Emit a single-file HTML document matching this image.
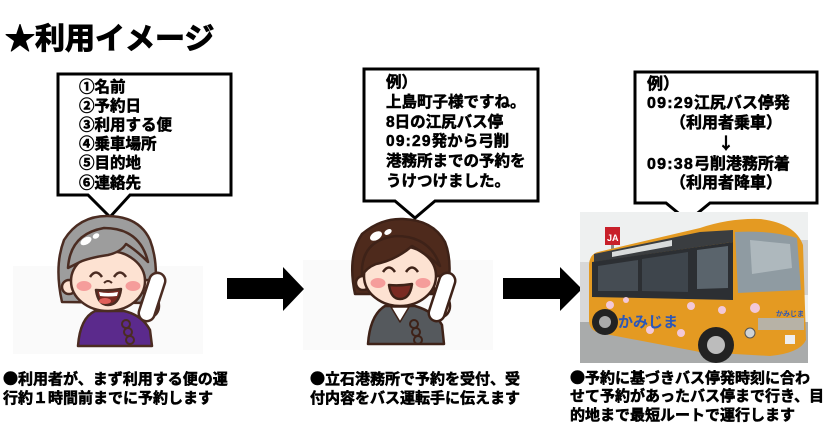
<!DOCTYPE html>
<html><head><meta charset="utf-8">
<style>
html,body{margin:0;padding:0;background:#fff;}
body{width:829px;height:435px;position:relative;overflow:hidden;font-family:"Liberation Sans","Noto Sans CJK JP",sans-serif;font-weight:bold;color:#000;}
.t{position:absolute;white-space:nowrap;font-weight:bold;-webkit-text-stroke:0.55px #000;}
.cj{font-family:"Noto Sans CJK JP",sans-serif;}
.d{letter-spacing:1.2px;}
svg{position:absolute;left:0;top:0;}
</style></head><body>
<svg width="829" height="435" viewBox="0 0 829 435" xmlns="http://www.w3.org/2000/svg">
  <!-- faint ghost backgrounds -->
  <rect x="13" y="266" width="190" height="88" fill="#fafafa"/>
  <rect x="303" y="260" width="190" height="90" fill="#fafafa"/>

  <!-- Bubbles -->
  <path d="M58,74 H231 V195 H130 L110,217 L88,195 H58 Z" fill="#fff" stroke="#000" stroke-width="3" stroke-linejoin="miter"/>
  <path d="M364,69 H538 V201 H435 L415,218 L395,201 H364 Z" fill="#fff" stroke="#000" stroke-width="3"/>
  <path d="M635,72 H817 V203 H710 L688,221 L666,203 H635 Z" fill="#fff" stroke="#000" stroke-width="3"/>

  <!-- Arrows -->
  <polygon points="227,278 283,278 283,267 304,289 283,311 283,299 227,299" fill="#000"/>
  <polygon points="503,278 560,278 560,267 582,289 560,311 560,299 503,299" fill="#000"/>

  <!-- Grandma -->
  <g stroke="#4b2c22" stroke-width="2.5" stroke-linejoin="round">
    <path d="M62,302 Q54,266 64,240 Q79,216 107,216 Q139,216 150,240 Q160,266 153,303 Z" fill="#9d9d9d"/>
    <circle cx="69" cy="287" r="7" fill="#fde2d2"/>
    <circle cx="147" cy="287" r="7" fill="#fde2d2"/>
    <path d="M78,346 Q80,318 95,311 L124,311 Q142,315 150,330 L152,346 Z" fill="#5b2a8c"/>
    <ellipse cx="108" cy="281" rx="37" ry="30" fill="#fde2d2"/>
    <path d="M68,268 Q70,234 104,228 Q140,228 148,262 Q136,250 126,244 Q121,252 108,255 Q88,258 80,262 Q72,266 68,268 Z" fill="#9d9d9d"/>
    <path d="M90,277 Q96,268 102,277" fill="none"/>
    <path d="M114,277 Q120,268 126,277" fill="none"/>
    <path d="M96,290 Q108,291 121,289 Q119,305 108,305 Q98,305 96,290 Z" fill="#7a2a22"/>
    <path d="M104,283 Q108,279 112,283" fill="none" stroke-width="2"/>
    <ellipse cx="150" cy="306" rx="9" ry="11" fill="#fde2d2"/>
    <rect x="144" y="272" width="16" height="50" rx="8" fill="#fff" transform="rotate(18 152 297)"/>
    <g fill="none" stroke-width="2"><circle cx="126" cy="324" r="4"/><circle cx="128" cy="332" r="4"/><circle cx="130" cy="340" r="4"/></g>
  </g>
  <path d="M99,292 Q108,294 118,292 L117,296 Q108,297 100,296 Z" fill="#fff"/>
  <ellipse cx="105" cy="301" rx="6" ry="3" fill="#e0605a"/>
  <ellipse cx="84" cy="286" rx="7.5" ry="5" fill="#f59d9b"/>
  <ellipse cx="133" cy="286" rx="7.5" ry="5" fill="#f59d9b"/>
  <ellipse cx="86" cy="241" rx="6" ry="3.5" fill="#fff" transform="rotate(-30 86 241)"/>
  <ellipse cx="96" cy="236" rx="3.5" ry="2.5" fill="#fff" transform="rotate(-30 96 236)"/>

  <!-- Man -->
  <g stroke="#3e2218" stroke-width="2.5" stroke-linejoin="round">
    <path d="M355,294 Q347,256 362,234 Q381,218 403,219 Q433,220 445,242 Q453,262 447,294 Z" fill="#4e2a1c"/>
    <circle cx="363" cy="283" r="7" fill="#fde2d2"/>
    <circle cx="439" cy="283" r="7" fill="#fde2d2"/>
    <path d="M368,344 Q370,315 385,306 L415,306 Q435,312 442,325 L444,344 Z" fill="#55595d"/>
    <ellipse cx="400" cy="276" rx="36" ry="30" fill="#fde2d2"/>
    <path d="M362,276 Q360,240 396,236 Q430,236 440,266 Q426,254 412,246 Q396,260 376,264 Q366,268 362,276 Z" fill="#4e2a1c"/>
    <path d="M383,272 Q389,263 395,272" fill="none"/>
    <path d="M406,272 Q412,263 418,272" fill="none"/>
    <path d="M389,285 Q400,286 412,284 Q410,299 400,299 Q391,299 389,285 Z" fill="#7a2a22"/>
    <polygon points="391,307 409,307 400,322" fill="#fff" stroke-width="1.5"/>
    <ellipse cx="441" cy="306" rx="9" ry="11" fill="#fde2d2"/>
    <rect x="434" y="272" width="16" height="50" rx="8" fill="#fff" transform="rotate(18 442 297)"/>
    <g fill="none" stroke-width="2"><circle cx="414" cy="324" r="4"/><circle cx="416" cy="332" r="4"/><circle cx="418" cy="340" r="4"/></g>
  </g>
  <ellipse cx="378" cy="283" rx="7.5" ry="5" fill="#f59d9b"/>
  <ellipse cx="423" cy="283" rx="7.5" ry="5" fill="#f59d9b"/>
  <ellipse cx="376" cy="236" rx="6.5" ry="4" fill="#fff" transform="rotate(-30 376 236)"/>
  <ellipse cx="388" cy="232" rx="4" ry="2.5" fill="#fff" transform="rotate(-30 388 232)"/>

  <!-- Bus photo -->
  <rect x="580" y="212" width="228" height="151" fill="#eef0f0"/>
  <rect x="790" y="240" width="18" height="55" fill="#cfcfcf"/>
  <rect x="580" y="262" width="10" height="60" fill="#d8d8d8"/>
  <rect x="580" y="322" width="228" height="41" fill="#a9abab"/>
  <rect x="605" y="227" width="15" height="18" fill="#c8202a"/>
  <text x="607" y="241" font-size="9" fill="#fff" font-family="Liberation Sans, sans-serif" font-weight="bold">JA</text>
  <rect x="611" y="245" width="3" height="12" fill="#888"/>
  <path d="M589,264 Q590,254 598,252 L700,228 Q730,218 760,219 Q795,223 803,245 L806,340 Q800,353 770,356 L700,352 L600,333 Q590,331 589,322 Z" fill="#e49a22"/>
  <path d="M594,254 L700,232 L733,230 L733,242 L594,262 Z" fill="#3a3d40"/>
  <path d="M612,252 L672,240 L672,246 L612,257 Z" fill="#d9dcdc"/>
  <path d="M592,262 L733,242 L733,300 L592,297 Z" fill="#2c2f33"/>
  <path d="M598,266 L638,260 L638,291 L598,291 Z" fill="#454c53"/>
  <path d="M642,259 L688,252 L688,292 L642,291 Z" fill="#3e454c"/>
  <path d="M697,250 L728,246 L728,288 L697,289 Z" fill="#5a646c"/>
  <path d="M735,232 Q770,230 797,238 L801,290 L738,293 Z" fill="#8f9ba2"/>
  <path d="M750,240 L790,244 L792,268 L752,274 Z" fill="#aeb8bd"/>
  <rect x="758" y="318" width="46" height="12" fill="#b7b2a6"/>
  <circle cx="750" cy="333" r="5" fill="#cfd3d5" stroke="#555" stroke-width="1"/>
  <rect x="785" y="335" width="10" height="9" fill="#eee"/>
  <circle cx="605" cy="322" r="13" fill="#222"/>
  <circle cx="605" cy="322" r="6" fill="#aaa"/>
  <circle cx="716" cy="345" r="18" fill="#222"/>
  <circle cx="716" cy="345" r="9" fill="#bcbcbc"/>
  <g fill="#f2c8d8"><circle cx="610" cy="305" r="4"/><circle cx="650" cy="330" r="4"/><circle cx="681" cy="333" r="4"/><circle cx="691" cy="306" r="4"/><circle cx="722" cy="310" r="4"/><circle cx="755" cy="308" r="5"/><circle cx="626" cy="300" r="3"/></g>
  <text x="618" y="327" font-size="15" fill="#2b57b8" font-family="Noto Sans CJK JP, sans-serif" font-weight="bold">かみじま</text>
  <text x="776" y="316" font-size="7" fill="#2b57b8" font-family="Noto Sans CJK JP, sans-serif">かみじま</text>
</svg>

<div class="t" style="left:5px;top:18px;font-size:30px;line-height:36px;-webkit-text-stroke:1px #000;"><span class="cj">★</span>利用イメージ</div>

<div class="t cj" style="left:79px;top:76.5px;font-size:15.5px;line-height:19.2px;">①名前<br>②予約日<br>③利用する便<br>④乗車場所<br>⑤目的地<br>⑥連絡先</div>

<div class="t" style="left:386px;top:73px;font-size:15.5px;line-height:19.8px;">例）<br>上島町子様ですね。<br>8日の江尻バス停<br><span class="d">09:29</span>発から弓削<br>港務所までの予約を<br>うけつけました。</div>

<div class="t" style="left:647px;top:75px;font-size:16px;line-height:19.4px;">例）<br><span class="d">09:29</span>江尻バス停発<br><span style="display:inline-block;width:158px;text-align:center;">（利用者乗車）</span><br><span class="cj" style="display:inline-block;width:158px;text-align:center;">↓</span><br><span class="d">09:38</span>弓削港務所着<br><span style="display:inline-block;width:158px;text-align:center;">（利用者降車）</span></div>

<div class="t" style="left:3px;top:368.5px;font-size:15px;line-height:19px;"><span class="cj">●</span>利用者が、まず利用する便の運<br>行約１時間前までに予約します</div>

<div class="t" style="left:310px;top:368.5px;font-size:15px;line-height:19px;"><span class="cj">●</span>立石港務所で予約を受付、受<br>付内容をバス運転手に伝えます</div>

<div class="t" style="left:570px;top:368.5px;font-size:15px;line-height:18.6px;"><span class="cj">●</span>予約に基づきバス停発時刻に合わ<br>せて予約があったバス停まで行き、目<br>的地まで最短ルートで運行します</div>
</body></html>
